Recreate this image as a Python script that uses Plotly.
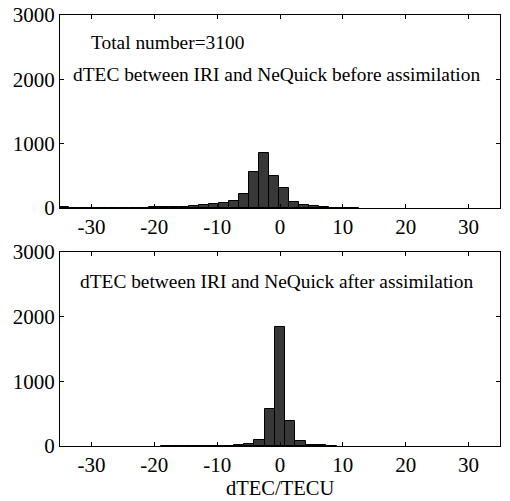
import plotly.graph_objects as go

# Top panel: before assimilation (bin centers in TECU, counts)
before_centers = [-34.375, -32.785, -31.195, -29.605, -28.015, -26.425, -24.835, -23.245,
                  -21.655, -20.065, -18.475, -16.885, -15.295, -13.705, -12.115, -10.525,
                  -8.935, -7.345, -5.755, -4.165, -2.575, -0.985, 0.605, 2.195, 3.785,
                  5.375, 6.965, 8.555, 10.145, 11.735]
before_counts = [12, 6, 4, 4, 5, 4, 5, 5, 6, 8, 10, 16, 22, 30, 42, 58,
                 78, 109, 218, 565, 855, 502, 316, 93, 40, 25, 10, 6, 4, 3]
before_width = 1.59

# Bottom panel: after assimilation
after_centers = [-18.04, -16.4, -14.76, -13.12, -11.48, -9.84, -8.2, -6.56, -4.92,
                 -3.28, -1.64, 0.0, 1.64, 3.28, 4.92, 6.56, 8.2]
after_counts = [2, 2, 2, 2, 2, 3, 5, 12, 38, 98, 567, 1845, 391, 77, 22, 8, 3]
after_width = 1.64

x_tickvals = [-30, -20, -10, 0, 10, 20, 30]
x_ticktext = ["-30", "-20", "-10", "0", "10", "20", "30"]
y_tickvals = [0, 1000, 2000, 3000]
y_ticktext = ["0", "1000", "2000", "3000"]

FONT = "Liberation Serif, Times New Roman, serif"
bar_color = "#383838"

fig = go.Figure()
fig.add_trace(go.Bar(x=before_centers, y=before_counts, width=before_width,
                     marker=dict(color=bar_color, line=dict(color="black", width=1)),
                     xaxis="x", yaxis="y", showlegend=False))
fig.add_trace(go.Bar(x=after_centers, y=after_counts, width=after_width,
                     marker=dict(color=bar_color, line=dict(color="black", width=1)),
                     xaxis="x2", yaxis="y2", showlegend=False))

axis_common = dict(showline=True, linecolor="black", linewidth=1, mirror="ticks",
                   ticks="inside", ticklen=4, tickcolor="black", showgrid=False,
                   zeroline=False, automargin=False,
                   tickfont=dict(family=FONT, size=21, color="black"))

fig.update_layout(
    width=510, height=501,
    margin=dict(l=60, r=10, t=15, b=55),
    paper_bgcolor="white", plot_bgcolor="white",
    bargap=0,
    xaxis=dict(domain=[0, 1], range=[-35, 35], anchor="y",
               tickvals=x_tickvals, ticktext=x_ticktext, **axis_common),
    yaxis=dict(domain=[0.5522, 1], range=[0, 3000], anchor="x",
               tickvals=y_tickvals, ticktext=y_ticktext, **axis_common),
    xaxis2=dict(domain=[0, 1], range=[-35, 35], anchor="y2",
                tickvals=x_tickvals, ticktext=x_ticktext, **axis_common),
    yaxis2=dict(domain=[0, 0.4501], range=[0, 3000], anchor="x2",
                tickvals=y_tickvals, ticktext=y_ticktext, **axis_common),
    annotations=[
        dict(text="Total number=3100", xref="x", yref="y", x=-30.4, y=2580,
             xanchor="left", yanchor="middle", showarrow=False,
             font=dict(family=FONT, size=19.4, color="black")),
        dict(text="dTEC between IRI and NeQuick before assimilation", xref="x", yref="y",
             x=-33.3, y=2080, xanchor="left", yanchor="middle", showarrow=False,
             font=dict(family=FONT, size=19.4, color="black")),
        dict(text="dTEC between IRI and NeQuick after assimilation", xref="x2", yref="y2",
             x=-32.2, y=2540, xanchor="left", yanchor="middle", showarrow=False,
             font=dict(family=FONT, size=19.4, color="black")),
        dict(text="dTEC/TECU", xref="x2", yref="paper", x=0, y=-0.097,
             xanchor="center", yanchor="middle", showarrow=False,
             font=dict(family=FONT, size=20.5, color="black")),
    ],
)

fig.write_html("out.html")
